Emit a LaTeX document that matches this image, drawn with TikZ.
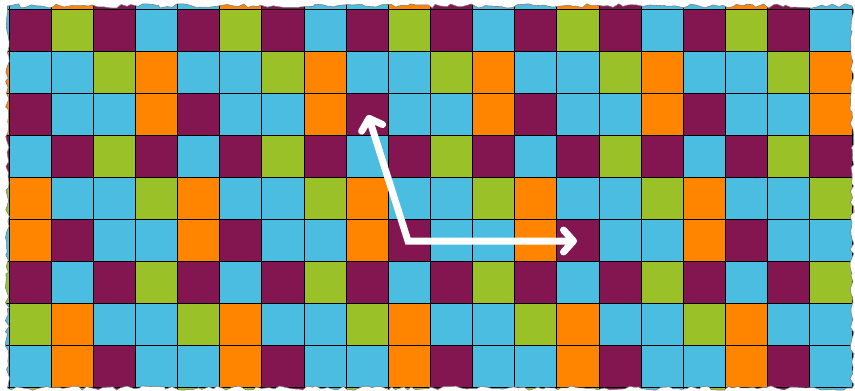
\documentclass[tikz,border=0pt]{standalone}
\usetikzlibrary{arrows.meta,decorations.pathmorphing}
\definecolor{cP}{RGB}{131,22,80}
\definecolor{cG}{RGB}{155,193,40}
\definecolor{cB}{RGB}{75,189,224}
\definecolor{cO}{RGB}{255,133,0}
\tikzset{
  gridline/.style={black, line width=1pt},
  torn/.style={decorate, decoration={random steps, segment length=5pt, amplitude=2.2pt}},
  tornedge/.style={gray, line width=0.6pt},
  arr/.style={white, line width=7pt, line join=miter,
    {Straight Barb[length=10pt, width=22pt, round]}-{Straight Barb[length=10pt, width=22pt, round]}}
}
\begin{document}
\begin{tikzpicture}[x=1pt,y=-1pt]
\useasboundingbox (0,0) rectangle (855,391);
\fill[white] (0,0) rectangle (855,391);
\def\cw{42.15}
\def\ch{42.1}
\begin{scope}
  \pgfmathsetseed{11}
  \clip[torn] (7.5,6) rectangle (852,388);
  % cells
  \foreach \r/\a/\b/\c/\d in {-1/cB/cO/cP/cB, 0/cP/cG/cP/cB, 1/cB/cB/cG/cO, 2/cP/cB/cB/cO,
      3/cB/cP/cG/cP, 4/cO/cB/cB/cG, 5/cO/cP/cB/cB, 6/cP/cB/cP/cG,
      7/cG/cO/cB/cB, 8/cB/cO/cP/cB, 9/cG/cG/cP/cB}{
    \foreach \k in {-1,...,5}{
      \foreach \j/\col in {0/\a,1/\b,2/\c,3/\d}{
        \pgfmathsetmacro{\xx}{9+\cw*(4*\k+\j)}
        \pgfmathsetmacro{\yy}{9+\ch*\r}
        \fill[\col] (\xx,\yy) rectangle ++(\cw,\ch);
      }
    }
  }
  % grid lines
  \foreach \i in {0,...,20}{
    \pgfmathsetmacro{\xx}{9+\cw*\i}
    \draw[gridline] (\xx,0) -- (\xx,391);
  }
  \foreach \i in {0,...,9}{
    \pgfmathsetmacro{\yy}{9+\ch*\i}
    \draw[gridline] (0,\yy) -- (855,\yy);
  }
\end{scope}
\pgfmathsetseed{11}
\draw[tornedge, torn] (7.5,6) rectangle (852,388);
% arrows
\coordinate (corner) at (408,241);
\coordinate (tipUp) at (368,115);
\coordinate (tipRight) at (577,241);
\draw[arr] (tipUp) -- (corner) -- (tipRight);
\end{tikzpicture}
\end{document}
